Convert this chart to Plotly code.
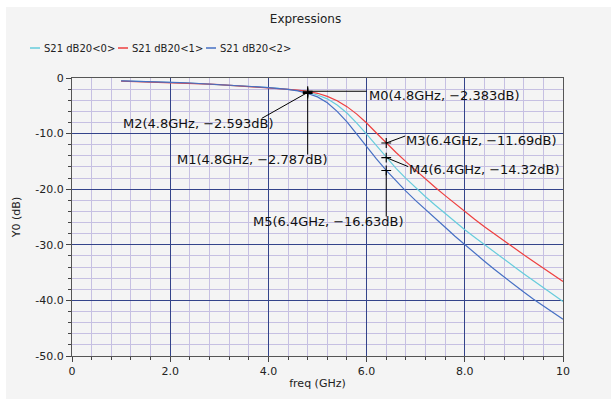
import plotly.graph_objects as go

# ---------------- data ----------------
freq = [1.0, 1.2, 1.4, 1.6, 1.8, 2.0, 2.2, 2.4, 2.6, 2.8, 3.0, 3.2, 3.4, 3.6, 3.8,
        4.0, 4.2, 4.4, 4.6, 4.8, 5.0, 5.2, 5.4, 5.6, 5.8, 6.0, 6.2, 6.4, 6.6, 6.8,
        7.0, 7.2, 7.4, 7.6, 7.8, 8.0, 8.2, 8.4, 8.6, 8.8, 9.0, 9.2, 9.4, 9.6, 9.8, 10.0]

s21_0 = [-0.53, -0.57, -0.61, -0.66, -0.71, -0.78, -0.85, -0.92, -1.00, -1.09,
         -1.18, -1.28, -1.38, -1.49, -1.61, -1.74, -1.88, -2.04, -2.25, -2.593,
         -3.05, -3.75, -4.85, -6.30, -8.10, -10.10, -12.20, -14.32, -16.25, -18.05,
         -19.75, -21.35, -22.90, -24.40, -25.85, -27.30, -28.65, -30.00, -31.30, -32.60,
         -33.90, -35.20, -36.45, -37.70, -38.95, -40.20]

s21_1 = [-0.55, -0.60, -0.65, -0.70, -0.75, -0.81, -0.88, -0.95, -1.03, -1.11,
         -1.20, -1.30, -1.40, -1.51, -1.63, -1.76, -1.89, -2.03, -2.19, -2.383,
         -2.75, -3.30, -4.10, -5.15, -6.50, -8.10, -9.90, -11.69, -13.40, -15.05,
         -16.65, -18.20, -19.70, -21.15, -22.60, -24.00, -25.40, -26.75, -28.05, -29.35,
         -30.60, -31.80, -33.00, -34.20, -35.40, -36.60]

s21_2 = [-0.52, -0.55, -0.58, -0.62, -0.68, -0.75, -0.82, -0.90, -0.98, -1.07,
         -1.16, -1.26, -1.37, -1.48, -1.60, -1.73, -1.88, -2.06, -2.33, -2.787,
         -3.40, -4.45, -6.00, -7.90, -10.10, -12.40, -14.55, -16.63, -18.55, -20.35,
         -22.05, -23.70, -25.30, -26.85, -28.45, -30.00, -31.50, -32.95, -34.40, -35.80,
         -37.20, -38.50, -39.80, -41.00, -42.20, -43.40]

series_names = ["S21 dB20<0>", "S21 dB20<1>", "S21 dB20<2>"]
series_values = [s21_0, s21_1, s21_2]

marker_names = ["M0", "M1", "M2", "M3", "M4", "M5"]
marker_freq = [4.8, 4.8, 4.8, 6.4, 6.4, 6.4]
marker_vals = [-2.383, -2.787, -2.593, -11.69, -14.32, -16.63]

x_tickvals = [0, 2, 4, 6, 8, 10]
x_ticktext = ["0", "2.0", "4.0", "6.0", "8.0", "10"]
y_tickvals = [0, -10, -20, -30, -40, -50]
y_ticktext = ["0", "-10.0", "-20.0", "-30.0", "-40.0", "-50.0"]

# ---------------- style ----------------
colors = ["#66ccdc", "#ee3f3f", "#4670c4"]
FONT = "DejaVu Sans"
BG = "#f4f4f4"
MAJOR = "#34448a"
MINOR = "#c6c0e2"
W, H = 611, 399
L, R, T, B = 72, 48, 78, 43
PW, PH = W - L - R, H - T - B

def px2paper_x(px):
    return (px - L) / PW

def px2paper_y(py):
    return (H - B - py) / PH

# label placement (pixel offsets from marker: text anchor dx, dy(down +), leader end dx, dy)
label_style = {
    "M0": dict(xanchor="left", tdx=59, tdy=4, ldx=59, ldy=0),
    "M1": dict(xanchor="center", tdx=-55, tdy=66, ldx=0, ldy=61),
    "M2": dict(xanchor="right", tdx=-32, tdy=31, ldx=-46, ldy=26),
    "M3": dict(xanchor="left", tdx=18, tdy=-3, ldx=19, ldy=-7),
    "M4": dict(xanchor="left", tdx=21, tdy=12, ldx=22, ldy=9),
    "M5": dict(xanchor="right", tdx=20, tdy=51, ldx=0, ldy=46),
}

fig = go.Figure()

for name, vals, col in zip(series_names, series_values, colors):
    fig.add_trace(go.Scatter(x=freq, y=vals, mode="lines", name=name,
                             line=dict(color=col, width=1.2), showlegend=False,
                             hoverinfo="skip"))

fig.add_trace(go.Scatter(x=marker_freq, y=marker_vals, mode="markers",
                         marker=dict(symbol="cross-thin", size=7,
                                     line=dict(color="black", width=1.1)),
                         showlegend=False, hoverinfo="skip"))

shapes = []
annotations = []

# grey panel with thin white border (like the reference frame)
shapes.append(dict(type="rect", xref="paper", yref="paper",
                   x0=px2paper_x(6), x1=px2paper_x(W + 2),
                   y0=px2paper_y(H + 2), y1=px2paper_y(7),
                   fillcolor=BG, line=dict(width=0), layer="below"))

for nm, f, v in zip(marker_names, marker_freq, marker_vals):
    st = label_style[nm]
    shapes.append(dict(type="line", xref="x", yref="y",
                       xsizemode="pixel", xanchor=f, x0=0, x1=st["ldx"],
                       ysizemode="pixel", yanchor=v, y0=0, y1=-st["ldy"],
                       line=dict(color="black", width=1)))
    annotations.append(dict(x=f, y=v, xref="x", yref="y",
                            text=f"{nm}({f:g}GHz, \u2212{abs(v):.4g}dB)",
                            showarrow=False, xanchor=st["xanchor"], yanchor="middle",
                            xshift=st["tdx"], yshift=-st["tdy"],
                            font=dict(family=FONT, size=13, color="#111")))

# custom legend (short line + label)
leg_y = px2paper_y(48)
leg_x = [30, 118, 206]
for name, col, lx in zip(series_names, colors, leg_x):
    shapes.append(dict(type="line", xref="paper", yref="paper",
                       x0=px2paper_x(lx), x1=px2paper_x(lx + 10), y0=leg_y, y1=leg_y,
                       line=dict(color=col, width=1.5)))
    annotations.append(dict(x=px2paper_x(lx + 12), y=leg_y, xref="paper", yref="paper",
                            text=name, showarrow=False, xanchor="left", yanchor="middle",
                            font=dict(family=FONT, size=10, color="#222")))

axis_common = dict(showline=True, mirror=True, linecolor="#555", linewidth=1,
                   showgrid=True, gridcolor=MAJOR, gridwidth=1, zeroline=False,
                   ticks="outside", ticklen=5, tickcolor="#444",
                   tickfont=dict(family=FONT, size=11, color="#222"))

fig.update_layout(
    width=W, height=H,
    margin=dict(l=L, r=R, t=T, b=B, autoexpand=False),
    paper_bgcolor="white", plot_bgcolor=BG,
    title=dict(text="Expressions", x=0.5, xref="container", xanchor="center",
               y=1 - 19 / H, yref="container", yanchor="middle",
               font=dict(family=FONT, size=12, color="#222")),
    xaxis=dict(range=[0, 10], tickmode="array", tickvals=x_tickvals, ticktext=x_ticktext,
               title=dict(text="freq (GHz)", standoff=2,
                          font=dict(family=FONT, size=11, color="#222")),
               minor=dict(dtick=0.4, tick0=0, showgrid=True, gridcolor=MINOR, gridwidth=1,
                          ticks="outside", ticklen=3, tickcolor="#444"),
               **axis_common),
    yaxis=dict(range=[-50, 0], tickmode="array", tickvals=y_tickvals, ticktext=y_ticktext,
               title=dict(text="Y0 (dB)", standoff=12,
                          font=dict(family=FONT, size=11, color="#222")),
               minor=dict(dtick=2, tick0=0, showgrid=True, gridcolor=MINOR, gridwidth=1,
                          ticks="outside", ticklen=3, tickcolor="#444"),
               **axis_common),
    shapes=shapes,
    annotations=annotations,
    showlegend=False,
)

fig.write_html("out.html", config={"displayModeBar": False},
               post_script="document.body.style.margin='0';")
